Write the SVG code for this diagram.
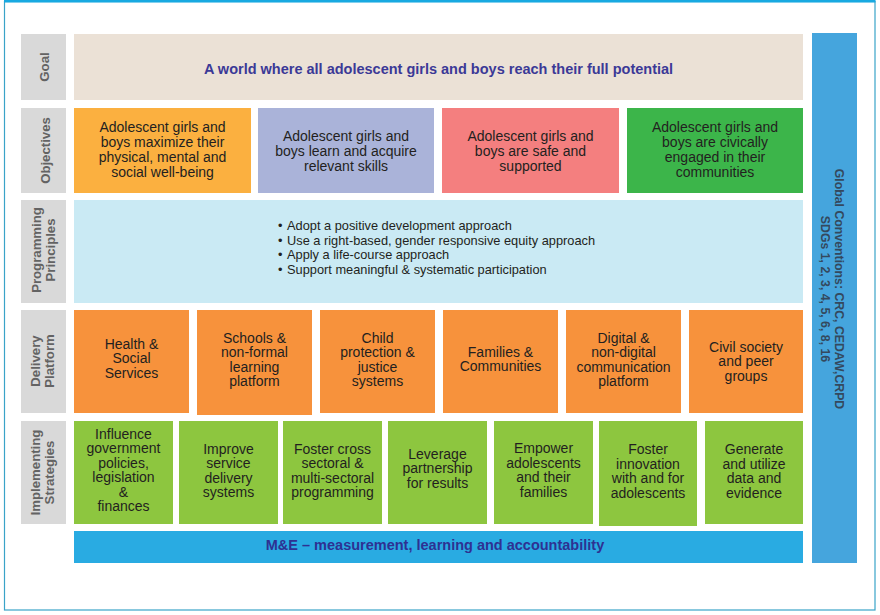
<svg xmlns="http://www.w3.org/2000/svg" width="880" height="615" viewBox="0 0 880 615">
<style>
text{font-family:"Liberation Sans",Arial,sans-serif}
.lbl{fill:#d9d9d9}
.lt{font-size:13.2px;font-weight:bold;fill:#636363;text-anchor:middle}
.bt{font-size:14px;fill:#231f20;text-anchor:middle}
.pt{font-size:12.8px;fill:#231f20}
.del{fill:#f7923c}
.str{fill:#8dc63f}
</style>
<rect width="880" height="615" fill="#ffffff"/>
<rect x="4.5" y="1.5" width="870.5" height="608.5" fill="none" stroke="#3aa3c8" stroke-width="1.2"/>
<line x1="4" y1="1.2" x2="875.5" y2="1.2" stroke="#18a9e1" stroke-width="2.6"/>

<g id="labels">
  <g id="label-goal"><rect class="lbl" x="21" y="34" width="45" height="66"/><text class="lt" transform="translate(49 67) rotate(-90)">Goal</text></g>
  <g id="label-objectives"><rect class="lbl" x="21" y="108" width="45" height="85"/><text class="lt" transform="translate(49.5 150.5) rotate(-90)">Objectives</text></g>
  <g id="label-principles"><rect class="lbl" x="21" y="200" width="45" height="103"/><text class="lt" transform="translate(41 250) rotate(-90)"><tspan x="0" y="0">Programming</tspan><tspan x="0" y="14">Principles</tspan></text></g>
  <g id="label-delivery"><rect class="lbl" x="21" y="310" width="45" height="103"/><text class="lt" transform="translate(39.5 361) rotate(-90)"><tspan x="0" y="0">Delivery</tspan><tspan x="0" y="14.5">Platform</tspan></text></g>
  <g id="label-strategies"><rect class="lbl" x="21" y="421" width="45" height="103"/><text class="lt" transform="translate(39.5 472.5) rotate(-90)"><tspan x="0" y="0">Implementing</tspan><tspan x="0" y="14">Strategies</tspan></text></g>
</g>

<g id="goal"><rect x="74" y="34" width="729" height="66" fill="#ebe1d6"/><text x="438.5" y="74" text-anchor="middle" font-size="14.5" font-weight="bold" fill="#3b3997">A world where all adolescent girls and boys reach their full potential</text></g>

<g id="obj1"><rect x="74" y="108" width="177" height="85" fill="#fbb040"/><text class="bt"><tspan x="162.5" y="131.5">Adolescent girls and</tspan><tspan x="162.5" y="146.5">boys maximize their</tspan><tspan x="162.5" y="161.5">physical, mental and</tspan><tspan x="162.5" y="176.5">social well-being</tspan></text></g>
<g id="obj2"><rect x="258" y="108" width="176" height="85" fill="#aab3d9"/><text class="bt"><tspan x="346" y="140.5">Adolescent girls and</tspan><tspan x="346" y="155.5">boys learn and acquire</tspan><tspan x="346" y="170.5">relevant skills</tspan></text></g>
<g id="obj3"><rect x="442" y="108" width="177" height="85" fill="#f47f7f"/><text class="bt"><tspan x="530.5" y="140.5">Adolescent girls and</tspan><tspan x="530.5" y="155.5">boys are safe and</tspan><tspan x="530.5" y="170.5">supported</tspan></text></g>
<g id="obj4"><rect x="627" y="108" width="176" height="85" fill="#3cb54a"/><text class="bt"><tspan x="715" y="131.5">Adolescent girls and</tspan><tspan x="715" y="146.5">boys are civically</tspan><tspan x="715" y="161.5">engaged in their</tspan><tspan x="715" y="176.5">communities</tspan></text></g>

<g id="principles"><rect x="74" y="200" width="729" height="103" fill="#caeaf4"/>
<text class="pt"><tspan x="278" y="230">•</tspan><tspan x="278" y="244.5">•</tspan><tspan x="278" y="259">•</tspan><tspan x="278" y="273.5">•</tspan></text>
<text class="pt"><tspan x="287" y="230">Adopt a positive development approach</tspan><tspan x="287" y="244.5">Use a right-based, gender responsive equity approach</tspan><tspan x="287" y="259">Apply a life-course approach</tspan><tspan x="287" y="273.5">Support meaningful &amp; systematic participation</tspan></text></g>

<g id="del1"><rect class="del" x="74" y="310" width="115" height="103"/><text class="bt"><tspan x="131.5" y="348.5">Health &amp;</tspan><tspan x="131.5" y="363">Social</tspan><tspan x="131.5" y="377.5">Services</tspan></text></g>
<g id="del2"><rect class="del" x="197" y="310" width="115" height="105"/><text class="bt"><tspan x="254.5" y="342.5">Schools &amp;</tspan><tspan x="254.5" y="357">non-formal</tspan><tspan x="254.5" y="371.5">learning</tspan><tspan x="254.5" y="386">platform</tspan></text></g>
<g id="del3"><rect class="del" x="320" y="310" width="115" height="103"/><text class="bt"><tspan x="377.5" y="342.5">Child</tspan><tspan x="377.5" y="357">protection &amp;</tspan><tspan x="377.5" y="371.5">justice</tspan><tspan x="377.5" y="386">systems</tspan></text></g>
<g id="del4"><rect class="del" x="443" y="310" width="115" height="103"/><text class="bt"><tspan x="500.5" y="356.5">Families &amp;</tspan><tspan x="500.5" y="371">Communities</tspan></text></g>
<g id="del5"><rect class="del" x="566" y="310" width="115" height="103"/><text class="bt"><tspan x="623.5" y="342.5">Digital &amp;</tspan><tspan x="623.5" y="357">non-digital</tspan><tspan x="623.5" y="371.5">communication</tspan><tspan x="623.5" y="386">platform</tspan></text></g>
<g id="del6"><rect class="del" x="689" y="310" width="114" height="103"/><text class="bt"><tspan x="746" y="351.5">Civil society</tspan><tspan x="746" y="366">and peer</tspan><tspan x="746" y="380.5">groups</tspan></text></g>

<g id="str1"><rect class="str" x="74" y="421" width="99" height="103"/><text class="bt"><tspan x="123.5" y="438.5">Influence</tspan><tspan x="123.5" y="453">government</tspan><tspan x="123.5" y="467.5">policies,</tspan><tspan x="123.5" y="482">legislation</tspan><tspan x="123.5" y="496.5">&amp;</tspan><tspan x="123.5" y="511">finances</tspan></text></g>
<g id="str2"><rect class="str" x="179" y="421" width="99" height="103"/><text class="bt"><tspan x="228.5" y="453.5">Improve</tspan><tspan x="228.5" y="468">service</tspan><tspan x="228.5" y="482.5">delivery</tspan><tspan x="228.5" y="497">systems</tspan></text></g>
<g id="str3"><rect class="str" x="283" y="421" width="99" height="103"/><text class="bt"><tspan x="332.5" y="453.5">Foster cross</tspan><tspan x="332.5" y="468">sectoral &amp;</tspan><tspan x="332.5" y="482.5">multi-sectoral</tspan><tspan x="332.5" y="497">programming</tspan></text></g>
<g id="str4"><rect class="str" x="388" y="421" width="99" height="103"/><text class="bt"><tspan x="437.5" y="458.5">Leverage</tspan><tspan x="437.5" y="473">partnership</tspan><tspan x="437.5" y="487.5">for results</tspan></text></g>
<g id="str5"><rect class="str" x="494" y="421" width="99" height="103"/><text class="bt"><tspan x="543.5" y="453">Empower</tspan><tspan x="543.5" y="467.5">adolescents</tspan><tspan x="543.5" y="482">and their</tspan><tspan x="543.5" y="496.5">families</tspan></text></g>
<g id="str6"><rect class="str" x="599" y="421" width="98" height="105"/><text class="bt"><tspan x="648" y="454">Foster</tspan><tspan x="648" y="468.5">innovation</tspan><tspan x="648" y="483">with and for</tspan><tspan x="648" y="497.5">adolescents</tspan></text></g>
<g id="str7"><rect class="str" x="705" y="421" width="98" height="103"/><text class="bt"><tspan x="754" y="454">Generate</tspan><tspan x="754" y="468.5">and utilize</tspan><tspan x="754" y="483">data and</tspan><tspan x="754" y="497.5">evidence</tspan></text></g>

<g id="me"><rect x="74" y="531" width="729" height="32" fill="#29abe2"/><text x="435" y="550" text-anchor="middle" font-size="14.5" font-weight="bold" fill="#2e3192">M&amp;E – measurement, learning and accountability</text></g>

<g id="global"><rect x="812" y="33" width="45" height="530" fill="#45a5dd"/><text transform="translate(835 289) rotate(90)" text-anchor="middle" font-size="12.3" font-weight="bold" fill="#34495e"><tspan x="0" y="0">Global Conventions: CRC, CEDAW,CRPD</tspan><tspan x="0" y="14">SDGs 1, 2, 3, 4, 5, 6, 8, 16</tspan></text></g>

<g id="connectors"></g>
</svg>
